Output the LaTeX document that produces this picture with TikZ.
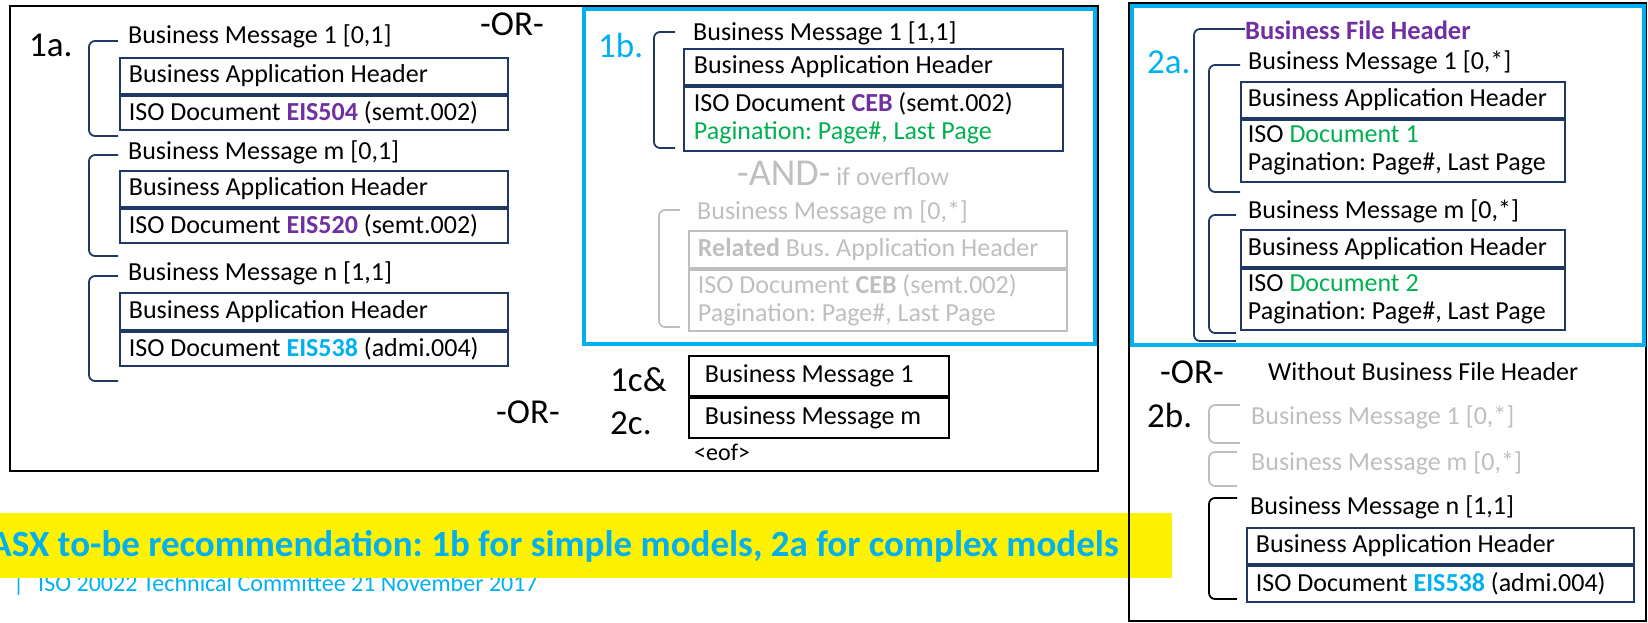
\documentclass[tikz,border=0pt]{standalone}
\usepackage{fontspec}
\setmainfont{Carlito}
\usetikzlibrary{positioning}

\definecolor{navy}{RGB}{31,56,100}
\definecolor{asxblue}{RGB}{0,176,240}
\definecolor{asxpurple}{RGB}{112,48,160}
\definecolor{asxgreen}{RGB}{0,176,80}
\definecolor{fadegray}{RGB}{191,191,191}
\newcommand{\bodyfont}{\fontsize{26}{28}\selectfont}
\newcommand{\bigfont}{\fontsize{35}{40}\selectfont}
\newcommand{\eis}[2]{{\bfseries\color{#1}#2}}

\begin{document}
\frenchspacing
\begin{tikzpicture}[x=1pt,y=-1pt,
  txt/.style={anchor=west,inner sep=0,font=\bodyfont},
  lbl/.style={anchor=west,inner sep=0,font=\bigfont},
  msgbox/.style={draw=navy,line width=1.8,anchor=north west,inner xsep=9,inner ysep=0,text width=#1,align=flush left,font=\bodyfont},
  fadebox/.style={msgbox=#1,draw=fadegray,text=fadegray},
  stackbox/.style={draw=black,line width=1.8,anchor=north west,inner xsep=16,inner ysep=0,text width=228pt,minimum height=40,align=flush left,font=\bodyfont},
  bmbrace/.style={navy,line width=1.8,rounded corners=6},
  panel/.style={line width=1.8},
  bluepanel/.style={draw=asxblue,line width=4}]
\useasboundingbox (0,0) rectangle (1648,623);

% footer and recommendation
\node[txt,font=\fontsize{24}{26}\selectfont,text=asxblue] (footer) at (13,585) {|\hspace{14pt}ISO 20022 Technical Committee 21 November 2017};
\fill[yellow] (0,513) rectangle (1172,578);
\node[anchor=east,inner sep=0,font=\fontsize{37}{40}\selectfont\bfseries,text=asxblue] (advice) at (1119,546) {ASX to-be recommendation: 1b for simple models, 2a for complex models};

% option 1
\draw[panel] (10,6) rectangle (1098,471);
\draw[bluepanel] (584,9) rectangle (1095,344);

% 1a
\node[lbl] (lab1a) at (29,45) {1a.};
\node[lbl] (or1) at (480,24) {-OR-};
\node[txt] (bm1a) at (128,36) {Business Message 1 [0,1]};
\node[msgbox=370pt,minimum height=36] (bah1a) at (119,57) {Business Application Header};
\node[msgbox=370pt,minimum height=34,below=0 of bah1a] (iso1a) {ISO Document \eis{asxpurple}{EIS504} (semt.002)};
\draw[bmbrace] (118,41) -- (89,41) -- (89,136) -- (118,136);
\node[txt] (bm2a) at (128,152) {Business Message m [0,1]};
\node[msgbox=370pt,minimum height=36] (bah2a) at (119,170) {Business Application Header};
\node[msgbox=370pt,minimum height=34,below=0 of bah2a] (iso2a) {ISO Document \eis{asxpurple}{EIS520} (semt.002)};
\draw[bmbrace] (118,155) -- (89,155) -- (89,256) -- (118,256);
\node[txt] (bm3a) at (128,273) {Business Message n [1,1]};
\node[msgbox=370pt,minimum height=37] (bah3a) at (119,292) {Business Application Header};
\node[msgbox=370pt,minimum height=34,below=0 of bah3a] (iso3a) {ISO Document \eis{asxblue}{EIS538} (admi.004)};
\draw[bmbrace] (118,276) -- (89,276) -- (89,381) -- (118,381);
\node[lbl] (or2) at (496,412) {-OR-};

% 1b
\node[lbl,text=asxblue] (lab1b) at (598,45) {1b.};
\node[txt] (bm1b) at (693,33) {Business Message 1 [1,1]};
\node[msgbox=359pt,minimum height=36,inner xsep=10] (bah1b) at (683,48) {Business Application Header};
\node[msgbox=359pt,minimum height=64,inner xsep=10,below=0 of bah1b] (iso1b) {ISO Document \eis{asxpurple}{CEB} (semt.002)\\{\color{asxgreen}Pagination: Page\#, Last Page}};
\draw[bmbrace] (675,32) -- (654,32) -- (654,148) -- (675,148);
\node[txt,text=fadegray] (and1b) at (737,173) {{\fontsize{38}{40}\selectfont -AND-} if overflow};
\node[txt,text=fadegray] (bmmb) at (697,212) {Business Message m [0,*]};
\node[fadebox=360pt,minimum height=37,inner xsep=9] (bahmb) at (688,230) {\textbf{Related} Bus. Application Header};
\node[fadebox=360pt,minimum height=61,inner xsep=9,below=0 of bahmb] (isomb) {ISO Document \textbf{CEB} (semt.002)\\Pagination: Page\#, Last Page};
\draw[bmbrace,fadegray] (680,210) -- (659,210) -- (659,327) -- (680,327);

% 1c and 2c
\node[lbl] (lab1c) at (610,380) {1c\&};
\node[lbl] (lab2c) at (610,423) {2c.};
\node[stackbox] (stack1) at (688,355) {Business Message 1};
\node[stackbox,below=0 of stack1] (stack2) {Business Message m};
\node[txt,font=\fontsize{24}{26}\selectfont] (eof) at (694,452) {<eof>};

% option 2
\draw[panel] (1129,3) rectangle (1646,621);
\draw[bluepanel] (1132,6) rectangle (1644,345);

% 2a
\node[txt,font=\fontsize{26.5}{28}\selectfont\bfseries,text=asxpurple] (bfh) at (1245,30) {Business File Header};
\draw[bmbrace] (1245,29) -- (1194,29) -- (1194,341) -- (1236,341);
\node[lbl,text=asxblue] (lab2a) at (1147,62) {2a.};
\node[txt] (bm1r) at (1248,62) {Business Message 1 [0,*]};
\node[msgbox=310pt,minimum height=36,inner xsep=7] (bah1r) at (1240,81) {Business Application Header};
\node[msgbox=310pt,minimum height=62,inner xsep=7,below=0 of bah1r] (iso1r) {ISO {\color{asxgreen}Document 1}\\\mbox{Pagination: Page\#, Last Page}};
\draw[bmbrace] (1240,65) -- (1209,65) -- (1209,192) -- (1240,192);
\node[txt] (bm2r) at (1248,211) {Business Message m [0,*]};
\node[msgbox=310pt,minimum height=37,inner xsep=7] (bah2r) at (1240,229) {Business Application Header};
\node[msgbox=310pt,minimum height=61,inner xsep=7,below=0 of bah2r] (iso2r) {ISO {\color{asxgreen}Document 2}\\\mbox{Pagination: Page\#, Last Page}};
\draw[bmbrace] (1236,215) -- (1209,215) -- (1209,333) -- (1236,333);

% 2b
\node[lbl] (or3) at (1160,372) {-OR-};
\node[txt] (nobfh) at (1268,372) {Without Business File Header};
\node[lbl] (lab2b) at (1147,415) {2b.};
\node[txt,text=fadegray] (bm1g) at (1251,417) {Business Message 1 [0,*]};
\draw[bmbrace,fadegray] (1240,405) -- (1209,405) -- (1209,443) -- (1240,443);
\node[txt,text=fadegray] (bmmg) at (1251,463) {Business Message m [0,*]};
\draw[bmbrace,fadegray] (1237,452) -- (1209,452) -- (1209,486) -- (1237,486);
\node[txt] (bmnr) at (1250,507) {Business Message n [1,1]};
\draw[bmbrace,black] (1237,498) -- (1209,498) -- (1209,599) -- (1237,599);
\node[msgbox=369pt,minimum height=36] (bah3r) at (1246,527) {Business Application Header};
\node[msgbox=369pt,minimum height=36,below=0 of bah3r] (iso3r) {ISO Document \eis{asxblue}{EIS538} (admi.004)};
\end{tikzpicture}
\end{document}
